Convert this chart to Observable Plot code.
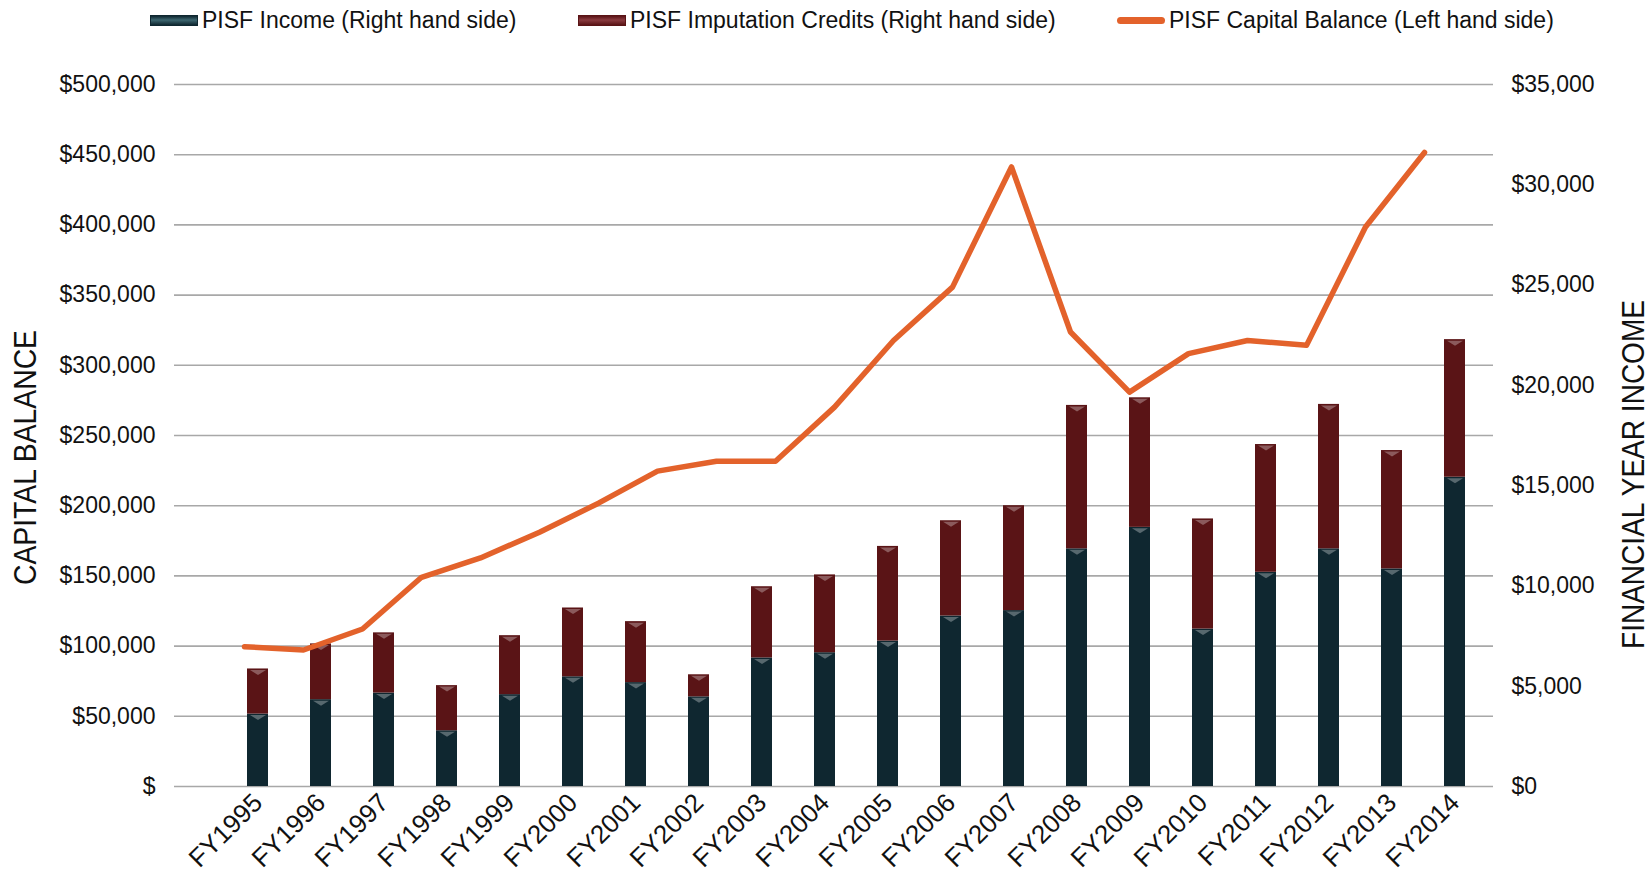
<!DOCTYPE html>
<html><head><meta charset="utf-8">
<script src="https://cdn.jsdelivr.net/npm/d3@7"></script>
<script src="https://cdn.jsdelivr.net/npm/@observablehq/plot@0.6"></script>
<style>
body{margin:0;background:#fff;font-family:"Liberation Sans",Arial,sans-serif;}
#legend{position:relative;height:40px;width:1649px;}
.item{position:absolute;top:0;height:40px;display:flex;align-items:center;font-size:23px;color:#111;white-space:nowrap}
.sw{width:48px;height:11px;margin-right:4px;box-sizing:border-box}
#chart{position:relative;width:1649px;height:835px}
#chart svg{position:absolute;left:0;top:0}
</style></head><body>
<div id="legend"></div><div id="chart"></div>
<script>
// ---- data ----
const years = ["FY1995","FY1996","FY1997","FY1998","FY1999","FY2000","FY2001","FY2002","FY2003","FY2004",
               "FY2005","FY2006","FY2007","FY2008","FY2009","FY2010","FY2011","FY2012","FY2013","FY2014"];
const income = [3610,4330,4660,2780,4580,5470,5180,4470,6410,6670,7250,8500,8770,11850,12920,7850,10680,11850,10850,15420];
const imputation = [2250,2780,3000,2250,2940,3430,3040,1100,3550,3880,4720,4750,5230,7150,6460,5490,6370,7200,5900,6860];
const balanceDates = ["Jun 1994","Jun 1995","Jun 1996","Jun 1997","Jun 1998","Jun 1999","Jun 2000","Jun 2001","Jun 2002","Jun 2003",
                      "Jun 2004","Jun 2005","Jun 2006","Jun 2007","Jun 2008","Jun 2009","Jun 2010","Jun 2011","Jun 2012","Jun 2013","Jun 2014"];
const capitalBalance = [99600,97200,112200,149000,162800,181100,201800,224600,231700,231700,
                        270200,317700,355700,441300,323700,280900,308300,317700,314200,398500,451600];
const capitalTicks = [0,50000,100000,150000,200000,250000,300000,350000,400000,450000,500000];
const incomeTicks = [0,5000,10000,15000,20000,25000,30000,35000];
const seriesNames = ["PISF Income (Right hand side)","PISF Imputation Credits (Right hand side)","PISF Capital Balance (Left hand side)"];
const colors = ["#0f2730","#5a1416","#e3622b"];
const leftTitle = "CAPITAL BALANCE";
const rightTitle = "FINANCIAL YEAR INCOME";

// ---- legend ----
const legend = document.getElementById("legend");
const legendLeft = [150, 578, 1117];
seriesNames.forEach((name, i) => {
  const it = document.createElement("div");
  it.className = "item"; it.style.left = legendLeft[i] + "px";
  const sw = document.createElement("div"); sw.className = "sw";
  if (i < 2) {
    sw.style.background = `linear-gradient(${colors[i]}, ${i===0?"#3d6670":"#8a3b40"} 45%, ${colors[i]})`;
    sw.style.border = "1px solid " + colors[i];
  } else {
    sw.style.background = colors[i]; sw.style.height = "7px"; sw.style.borderRadius = "4px";
  }
  const tx = document.createElement("span"); tx.textContent = name;
  it.appendChild(sw); it.appendChild(tx); legend.appendChild(it);
});

// ---- chart ----
const W = 1649, H = 835, mT = 44, mB = 89, mL = 174, mR = 156;
const font = "'Liberation Sans', Arial, sans-serif";
const ratio = 35000 / 500000;
const rows = [];
years.forEach((y, i) => rows.push({year: y, series: seriesNames[0], value: income[i]}));
years.forEach((y, i) => rows.push({year: y, series: seriesNames[1], value: imputation[i]}));
const bevel = {draw(ctx) { ctx.moveTo(-8, 0); ctx.lineTo(8, 0); ctx.lineTo(0, 5); ctx.closePath(); }};
const step = 63.94;

const plotA = Plot.plot({
  width: W, height: H, marginTop: mT, marginBottom: mB, marginLeft: mL, marginRight: mR,
  style: {fontFamily: font, fontSize: "23px", color: "#111", background: "transparent", overflow: "visible"},
  x: {type: "band", domain: years, range: [249.3 - step/2, 1464 + step/2], paddingInner: 0.66, paddingOuter: 0.33},
  y: {domain: [0, 35000]},
  color: {domain: seriesNames.slice(0, 2), range: colors.slice(0, 2)},
  marks: [
    Plot.ruleY(capitalTicks.map(v => v * ratio), {stroke: "#a8a8a8", strokeWidth: 1.6}),
    Plot.barY(rows, {x: "year", y: "value", fill: "series"}),
    Plot.dot(rows, Plot.stackY2({x: "year", y: "value", z: "series", symbol: bevel, r: 4, fill: "white", fillOpacity: 0.3, dy: 1})),
    Plot.axisY(incomeTicks, {anchor: "right", tickSize: 0, tickPadding: 18, label: null,
      tickFormat: d => "$" + d3.format(",")(d)}),
    Plot.axisX({tickRotate: -45, tickSize: 0, tickPadding: 12, label: null, fontSize: 26}),
    Plot.text([rightTitle], {frameAnchor: "right", textAnchor: "middle", rotate: -90, dx: 141, dy: 39,
      fontSize: 31, fill: "#111", className: "axis-title-right"})
  ]
});

const plotB = Plot.plot({
  width: W, height: H, marginTop: mT, marginBottom: mB, marginLeft: mL, marginRight: mR,
  style: {fontFamily: font, fontSize: "23px", color: "#111", background: "transparent", overflow: "visible"},
  x: {type: "point", domain: balanceDates, range: [205, 1463], axis: null},
  y: {domain: [0, 500000]},
  marks: [
    Plot.axisY(capitalTicks, {anchor: "left", tickSize: 0, tickPadding: 19, label: null,
      tickFormat: d => d === 0 ? "$" : "$" + d3.format(",")(d)}),
    Plot.line(balanceDates.map((d, i) => ({date: d, value: capitalBalance[i]})),
      {x: "date", y: "value", stroke: colors[2], strokeWidth: 5.5}),
    Plot.text([leftTitle], {frameAnchor: "left", textAnchor: "middle", rotate: -90, dx: -148, dy: 22,
      fontSize: 31, fill: "#111", className: "axis-title-left"})
  ]
});

// condense the axis titles to the reference's narrow lettering
function condense(svg, cls, len) {
  svg.querySelectorAll("." + cls + " text").forEach(t => {
    t.setAttribute("textLength", len);
    t.setAttribute("lengthAdjust", "spacingAndGlyphs");
  });
}
condense(plotA, "axis-title-right", 349);
condense(plotB, "axis-title-left", 255);

const chart = document.getElementById("chart");
chart.appendChild(plotA);
chart.appendChild(plotB);
</script>
</body></html>
